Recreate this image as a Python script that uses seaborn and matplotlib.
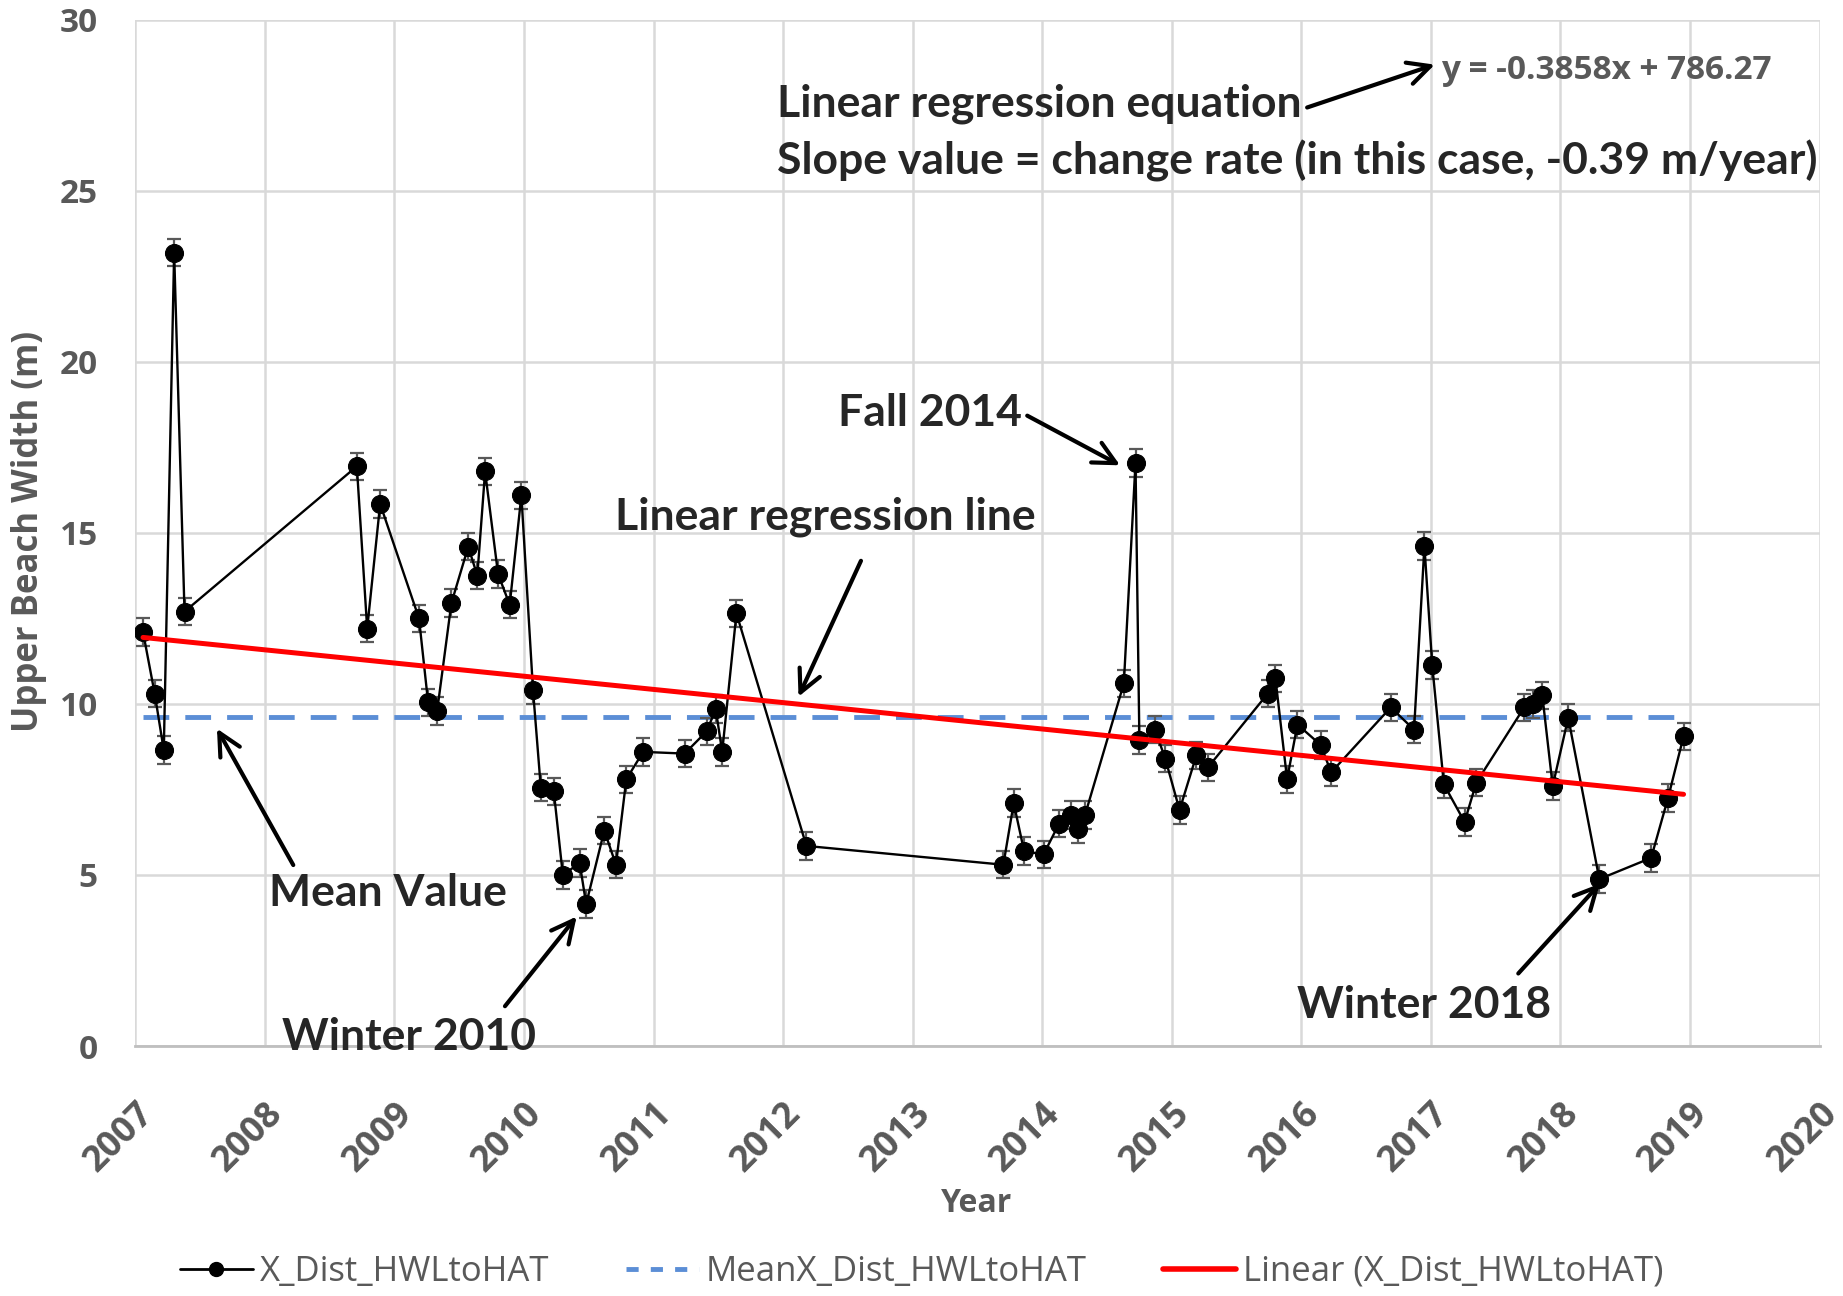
import numpy as np
import pandas as pd
import matplotlib
matplotlib.use("Agg")
import matplotlib.pyplot as plt
from matplotlib.lines import Line2D
import seaborn as sns

# ---- data ----
years = [2007.06, 2007.15, 2007.22, 2007.30, 2007.38,
         2008.71, 2008.79, 2008.89, 2009.19, 2009.26, 2009.33, 2009.44,
         2009.57, 2009.64, 2009.70, 2009.80, 2009.89, 2009.98,
         2010.07, 2010.13, 2010.23, 2010.30, 2010.43, 2010.48, 2010.62,
         2010.71, 2010.79, 2010.92, 2011.24, 2011.41, 2011.48, 2011.53,
         2011.64, 2012.18, 2013.70, 2013.78, 2013.86, 2014.01, 2014.13,
         2014.22, 2014.28, 2014.33, 2014.63, 2014.72, 2014.75, 2014.87,
         2014.95, 2015.06, 2015.19, 2015.28, 2015.74, 2015.80, 2015.89,
         2015.97, 2016.15, 2016.23, 2016.69, 2016.87, 2016.95, 2017.01,
         2017.10, 2017.26, 2017.35, 2017.72, 2017.79, 2017.86, 2017.94,
         2018.06, 2018.30, 2018.70, 2018.83, 2018.95]
width = [12.1, 10.3, 8.65, 23.2, 12.7,
         16.95, 12.2, 15.85, 12.5, 10.05, 9.8, 12.95,
         14.6, 13.75, 16.8, 13.8, 12.9, 16.1,
         10.4, 7.55, 7.45, 5.0, 5.35, 4.15, 6.3,
         5.3, 7.8, 8.6, 8.55, 9.2, 9.85, 8.6,
         12.65, 5.85, 5.3, 7.1, 5.7, 5.6, 6.5,
         6.75, 6.35, 6.75, 10.6, 17.05, 8.95, 9.25,
         8.4, 6.9, 8.5, 8.15, 10.3, 10.75, 7.8,
         9.4, 8.8, 8.0, 9.9, 9.25, 14.62, 11.14,
         7.65, 6.55, 7.7, 9.9, 10.0, 10.25, 7.6,
         9.6, 4.88, 5.5, 7.25, 9.05]
err_m = 0.4
mean_value = 9.62
slope = -0.3858
intercept = 786.27
x_ticks = list(range(2007, 2021))
y_ticks = [0, 5, 10, 15, 20, 25, 30]
series_labels = ["X_Dist_HWLtoHAT", "MeanX_Dist_HWLtoHAT", "Linear (X_Dist_HWLtoHAT)"]

df = pd.DataFrame({"Year": years, "Width": width})
reg_x = np.array([years[0], years[-1]])
reg_y = slope * reg_x + intercept
mean_df = pd.DataFrame({"Year": reg_x, "Width": [mean_value, mean_value]})
reg_df = pd.DataFrame({"Year": reg_x, "Width": reg_y})

# ---- style ----
sns.set_style("whitegrid")
plt.rcParams['font.family'] = ['Lato', 'DejaVu Sans']
GFONT = ['Open Sans', 'DejaVu Sans']

GRAY = "#595959"
BLUE = "#5B8ED6"

fig = plt.figure(figsize=(18.43, 12.96), dpi=100)
ax = fig.add_axes([0.0734, 0.1929, 0.9139, 0.7917])

ax.errorbar(df["Year"], df["Width"], yerr=err_m, fmt="none", ecolor=GRAY,
            elinewidth=1.6, capsize=5, capthick=1.6, zorder=3)
sns.lineplot(data=df, x="Year", y="Width", ax=ax, color="black", marker="o",
             markersize=13, markeredgecolor="black", linewidth=1.7, zorder=4)
sns.lineplot(data=mean_df, x="Year", y="Width", ax=ax, color=BLUE,
             linewidth=3.5, linestyle=(0, (5.3, 3.3)), zorder=2)
sns.lineplot(data=reg_df, x="Year", y="Width", ax=ax, color="red",
             linewidth=3.6, zorder=5)

ax.set_xlim(2007, 2020)
ax.set_ylim(0, 30)
ax.set_xticks(x_ticks)
ax.set_yticks(y_ticks)
ax.set_xticklabels([str(t) for t in x_ticks], rotation=45, ha="right",
                   va="top", rotation_mode="anchor")
ax.tick_params(axis="both", colors=GRAY, labelsize=24, length=0)
ax.tick_params(axis="x", labelsize=26, pad=36)
ax.tick_params(axis="y", pad=27)
for lab in ax.get_xticklabels() + ax.get_yticklabels():
    lab.set_fontweight("bold")
    lab.set_family(GFONT)
ax.grid(True, color="#D9D9D9", linewidth=1.8)
for s in ["left", "right", "top"]:
    ax.spines[s].set_visible(False)
ax.spines["bottom"].set_color("#BFBFBF")
ax.spines["bottom"].set_linewidth(2)
ax.set_xlabel("")
ax.set_ylabel("")

fig.text(29 / 1843, 1 - 531 / 1296, "Upper Beach Width (m)", rotation=90, color=GRAY,
         fontsize=25, fontweight="bold", family=GFONT, ha="center", va="center")
fig.text(977 / 1843, 1 - 1204 / 1296, "Year", color=GRAY, fontsize=23,
         fontweight="bold", family=GFONT, ha="center", va="center")

# ---- annotations ----
akw = dict(arrowstyle="->", color="black", lw=3, mutation_scale=40)
tfs = 32
ax.text(2017.08, 28.52, "y = -0.3858x + 786.27", color=GRAY, fontsize=24,
        fontweight="bold", family=GFONT, ha="left", va="center")
ax.annotate("Linear regression equation", xy=(2017.05, 28.72), xytext=(2011.95, 27.56),
            fontsize=tfs, fontweight="bold", ha="left", va="center",
            arrowprops=dict(**akw, relpos=(1.0, 0.35)), annotation_clip=False)
ax.text(2011.95, 25.88, "Slope value = change rate (in this case, -0.39 m/year)",
        fontsize=tfs, fontweight="bold", ha="left", va="center")
ax.annotate("Fall 2014", xy=(2014.62, 16.94), xytext=(2012.42, 18.52),
            fontsize=tfs, fontweight="bold", ha="left", va="center",
            arrowprops=dict(**akw, relpos=(1.0, 0.5)))
ax.text(2010.70, 15.46, "Linear regression line", fontsize=tfs,
        fontweight="bold", ha="left", va="center")
ax.annotate("", xy=(2012.11, 10.14), xytext=(2012.61, 14.26), arrowprops=akw)
ax.text(2008.03, 4.47, "Mean Value", fontsize=tfs, fontweight="bold",
        ha="left", va="center")
ax.annotate("", xy=(2007.62, 9.35), xytext=(2008.23, 5.22), arrowprops=akw)
ax.text(2008.13, 0.27, "Winter 2010", fontsize=tfs, fontweight="bold",
        ha="left", va="center", zorder=6)
ax.annotate("", xy=(2010.42, 3.85), xytext=(2009.84, 1.10), arrowprops=akw)
ax.text(2015.97, 1.2, "Winter 2018", fontsize=tfs, fontweight="bold",
        ha="left", va="center")
ax.annotate("", xy=(2018.32, 4.81), xytext=(2017.66, 2.06), arrowprops=akw)

# ---- legend ----
handles = [
    Line2D([0], [0], color="black", marker="o", markersize=10, linewidth=2),
    Line2D([0], [0], color=BLUE, linewidth=3.5, linestyle=(0, (2.5, 2.5))),
    Line2D([0], [0], color="red", linewidth=4),
]
fig.legend(handles, series_labels, loc="center", bbox_to_anchor=(0.5, 1 - 1272 / 1296),
           ncol=3, frameon=False, prop={"family": GFONT, "size": 25},
           labelcolor=GRAY, handlelength=2.1, columnspacing=2.2, handletextpad=0.2)

fig.savefig("out.png", dpi=100)
